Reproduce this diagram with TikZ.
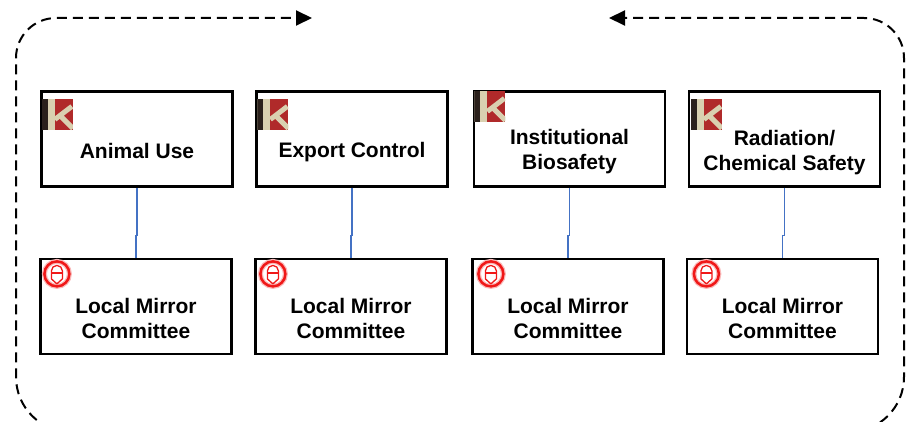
\documentclass[tikz,border=0pt]{standalone}
\usepackage{fontspec}
\setmainfont{Liberation Sans}
\usepackage{xcolor}
\usepackage{tikz}
\usetikzlibrary{arrows.meta}
\definecolor{linkblue}{HTML}{4472C4}
\definecolor{kred}{HTML}{B02A2A}
\definecolor{kbeige}{HTML}{D9D0B0}
\definecolor{kdark}{HTML}{2B211C}
\definecolor{shieldred}{HTML}{F01818}
\tikzset{unitbox/.style = {draw, line width=2.2pt, minimum width=191pt,
    minimum height=95pt, inner sep=0pt},
  unitname/.style = {font=\bfseries\fontsize{21}{25}\selectfont, align=center, inner sep=0pt},
  link/.style = {linkblue, line width=1.3pt},
  flow/.style = {line width=2pt, dash pattern=on 10pt off 6pt,
    -{Triangle[length=16pt,width=15pt]}},
  kicon/.pic = {
    \begin{scope}
      \clip (0,0) rectangle (31,31);
      \fill[kbeige] (0,0) rectangle (31,31);
      \fill[kdark] (0,0) rectangle (6,31);
      \fill[kred] (13,0) rectangle (31,31);
      \draw[kbeige, line width=5pt] (13,20) -- (30,7);
      \draw[kbeige, line width=5pt] (18,16) -- (31,29);
    \end{scope}},
  shieldicon/.pic = {
    \draw[shieldred!30, line width=5pt] (15.5,15) circle[radius=12.5];
    \draw[shieldred, line width=2.5pt] (15.5,15) circle[radius=12.5];
    \draw[shieldred, line width=1.3pt, line join=round]
      (10,14) -- (10,12) arc[start angle=180, end angle=360, radius=5.5]
      -- (21,20) -- (15.5,25) -- (10,20) -- cycle;
    \draw[shieldred, line width=1.3pt] (10,14) -- (21,14);
  }}

\begin{document}
\begin{tikzpicture}[x=1pt,y=-1pt]
  \clip (0,0) rectangle (906,422);
  % committees
  \node[unitbox] (t1) at (137,139) {};
  \node[unitbox] (t2) at (352,139) {};
  \node[unitbox] (t3) at (569.5,139) {};
  \node[unitbox] (t4) at (784.5,139) {};
  \node[unitname] (t1name) at ([yshift=-11.5pt]t1.center) {Animal Use};
  \node[unitname] (t2name) at ([yshift=-13.5pt]t2.center) {Export Control};
  \node[unitname] (t3name) at ([yshift=-13pt]t3.center) {Institutional\\Biosafety};
  \node[unitname] (t4name) at ([yshift=-14pt]t4.center) {Radiation/\\Chemical Safety};
  \pic at ([xshift=1.5pt,yshift=-9pt]t1.north west) {kicon};
  \pic at ([xshift=2pt,yshift=-9pt]t2.north west) {kicon};
  \pic at ([xshift=1.5pt,yshift=-1pt]t3.north west) {kicon};
  \pic at ([xshift=3pt,yshift=-9pt]t4.north west) {kicon};
  % mirror committees
  \node[unitbox] (b1) at (136,306.5) {};
  \node[unitbox] (b2) at (351,306.5) {};
  \node[unitbox] (b3) at (568,306.5) {};
  \node[unitbox] (b4) at (782.5,306.5) {};
  \node[unitname] (b1name) at ([yshift=-11.5pt]b1.center) {Local Mirror\\Committee};
  \node[unitname] (b2name) at ([yshift=-11.5pt]b2.center) {Local Mirror\\Committee};
  \node[unitname] (b3name) at ([yshift=-11.5pt]b3.center) {Local Mirror\\Committee};
  \node[unitname] (b4name) at ([yshift=-11.5pt]b4.center) {Local Mirror\\Committee};
  \pic at ([xshift=2pt,yshift=-1pt]b1.north west) {shieldicon};
  \pic at ([xshift=3pt,yshift=-1pt]b2.north west) {shieldicon};
  \pic at ([xshift=4pt,yshift=-1pt]b3.north west) {shieldicon};
  \pic at ([xshift=5pt,yshift=-1pt]b4.north west) {shieldicon};
  % links
  \draw[link] (t1.south) -- ++(0,48) -| (b1.north);
  \draw[link] (t2.south) -- ++(0,48) -| (b2.north);
  \draw[link] (t3.south) -- ++(0,48) -| (b3.north);
  \draw[link] (t4.south) -- ++(0,48) -| (b4.north);
  % loop
  \draw[flow] (450,432) [rounded corners=55pt] -- (16,432)
    [rounded corners=40pt] -- (16,18) -- (312,18);
  \draw[flow] (450,432) [rounded corners=55pt] -- (904,432)
    [rounded corners=40pt] -- (904,18) -- (609,18);
\end{tikzpicture}
\end{document}
